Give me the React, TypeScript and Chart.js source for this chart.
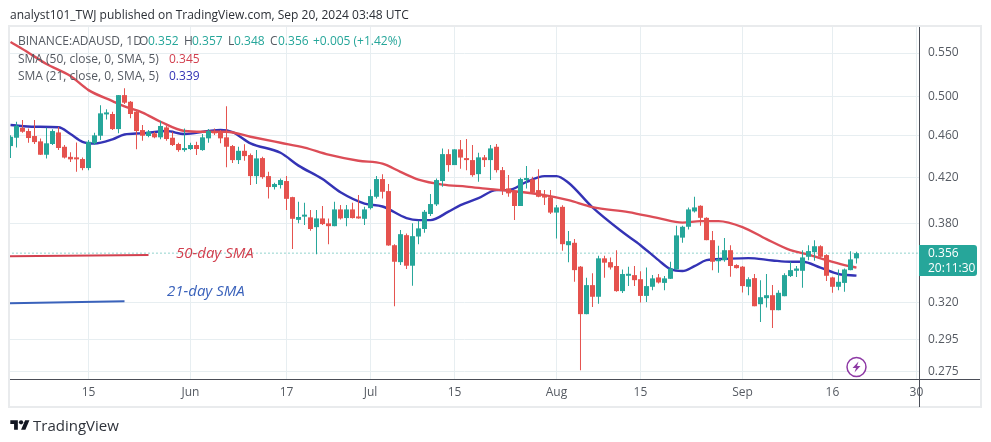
import React, { useEffect, useRef } from "react";
import { Chart, registerables } from "chart.js";

Chart.register(...registerables);

const opens = [.4493,.4575,.4675,.4642,.4592,.4539,.4409,.4513,.4628,.4486,.4389,.4377,.4368,.4283,.4520,.4595,.4813,.4817,.4662,.5019,.4947,.4841,.4652,.4592,.4619,.4579,.4679,.4575,.4513,.4454,.4464,.4503,.4454,.4569,.4642,.4635,.4579,.4493,.4358,.4447,.4406,.4209,.4377,.4209,.4110,.4128,.4164,.4021,.3827,.3854,.3848,.3767,.3839,.3798,.3775,.3915,.3842,.3915,.3848,.3836,.3926,.4024,.4182,.4074,.3622,.3491,.3702,.3464,.3691,.3752,.3876,.3958,.4164,.4415,.4311,.4461,.4374,.4358,.4227,.4384,.4358,.4486,.4264,.4098,.4077,.3944,.4173,.4179,.4083,.4039,.4020,.3888,.3937,.3622,.3641,.3457,.3118,.3321,.3238,.3520,.3491,.3462,.3278,.3389,.3394,.3364,.3244,.3309,.3377,.3337,.3367,.3436,.3682,.3770,.3898,.3946,.3844,.3662,.3498,.3506,.3583,.3469,.3457,.3309,.3372,.3186,.3228,.3249,.3145,.3242,.3387,.3426,.3426,.3532,.3568,.3614,.3545,.3377,.3309,.3337,.3431,.352];
const highs = [.4600,.4737,.4754,.4669,.4754,.4568,.4675,.4659,.4686,.4503,.4432,.4529,.4382,.4552,.4625,.4911,.4866,.4841,.5019,.5094,.4954,.4866,.4703,.4652,.4635,.4747,.4693,.4635,.4525,.4669,.4525,.4535,.4612,.4662,.4669,.4652,.4900,.4503,.4486,.4510,.4422,.4454,.4389,.4248,.4149,.4188,.4209,.4024,.3981,.3972,.3909,.3909,.3944,.3839,.3981,.3952,.3952,.3972,.4039,.3937,.4089,.4209,.4227,.4137,.3630,.3743,.3716,.3798,.3819,.3909,.4048,.4188,.4470,.4461,.4461,.4552,.4562,.4503,.4428,.4406,.4503,.4513,.4292,.4218,.4077,.4194,.4302,.4203,.4273,.4083,.4083,.3952,.3950,.3735,.3672,.3462,.3374,.3407,.3540,.3540,.3527,.3583,.3436,.3457,.3462,.3423,.3451,.3394,.3402,.3387,.3494,.3778,.3778,.3932,.4024,.3950,.3848,.3735,.3617,.3680,.3622,.3476,.3462,.3379,.3402,.3357,.3402,.3321,.3285,.3407,.3494,.3462,.3583,.3622,.3662,.3622,.3552,.3382,.3436,.3443,.3575,.357];
const lows = [.4377,.4480,.4625,.4525,.4513,.4406,.4374,.4503,.4454,.4374,.4339,.4248,.4264,.4264,.4503,.4552,.4761,.4652,.4619,.4922,.4772,.4461,.4545,.4579,.4569,.4559,.4545,.4493,.4437,.4437,.4454,.4406,.4447,.4525,.4602,.4520,.4290,.4330,.4320,.4352,.4128,.4137,.4185,.4010,.4089,.4098,.3909,.3593,.3798,.3784,.3737,.3552,.3784,.3630,.3775,.3831,.3775,.3839,.3836,.3784,.3915,.4010,.4010,.3617,.3172,.3469,.3439,.3316,.3630,.3721,.3859,.3944,.4113,.4248,.4311,.4276,.4264,.4203,.4157,.4292,.4173,.4242,.4039,.4024,.3825,.3944,.4098,.4054,.4020,.3952,.3876,.3675,.3578,.3490,.3345,.2760,.3118,.3167,.3190,.3374,.3436,.3273,.3265,.3314,.3314,.3198,.3202,.3285,.3333,.3285,.3365,.3436,.3642,.3748,.3888,.3778,.3662,.3431,.3411,.3494,.3382,.3443,.3268,.3249,.3172,.3065,.3163,.3025,.3145,.3242,.3380,.3380,.3302,.3506,.3501,.3527,.3350,.3266,.3285,.3273,.3431,.348];
const closes = [.4585,.4696,.4635,.4572,.4532,.4409,.4520,.4642,.4474,.4382,.4365,.4365,.4283,.4535,.4599,.4824,.4824,.4662,.5019,.4937,.4817,.4642,.4595,.4635,.4579,.4693,.4562,.4503,.4454,.4461,.4503,.4464,.4579,.4642,.4619,.4569,.4486,.4358,.4447,.4396,.4209,.4374,.4200,.4110,.4137,.4173,.4006,.3836,.3851,.3860,.3752,.3839,.3792,.3775,.3915,.3839,.3915,.3842,.3839,.3915,.4030,.4182,.4068,.3620,.3494,.3710,.3464,.3694,.3757,.3895,.3961,.4173,.4415,.4311,.4461,.4382,.4358,.4218,.4384,.4358,.4470,.4264,.4083,.4054,.3944,.4182,.4179,.4060,.4024,.4017,.3888,.3932,.3630,.3654,.3431,.3118,.3321,.3238,.3520,.3487,.3451,.3278,.3402,.3402,.3357,.3244,.3314,.3370,.3340,.3370,.3443,.3700,.3770,.3915,.3932,.3844,.3662,.3494,.3506,.3583,.3462,.3446,.3314,.3364,.3172,.3235,.3249,.3145,.3266,.3394,.3431,.3443,.3527,.3576,.3614,.3532,.3389,.3309,.3345,.3436,.3512,.356];

const sma50Days = [0,3,6,10,13,17,19,22,25,29,32,36,40,45,49,53,58,62,65,68,72,76,80,83,89,93,97,103,108,112,115,118,122,126,130,133,136,139,141];
const sma50Values = [.5633,.5504,.5370,.5232,.5074,.4954,.4897,.4832,.4737,.4642,.4635,.4635,.4585,.4525,.4478,.4410,.4352,.4324,.4248,.4177,.4132,.4114,.4091,.4077,.4039,.3995,.3935,.3892,.3841,.3804,.3817,.3817,.3768,.3670,.3583,.3549,.3506,.3469,.345];
const sma21Days = [0,4,8,10,12,14,17,19,22,26,29,33,35,37,40,45,48,52,55,59,62,66,68,70,73,75,78,81,83,86,89,91,93,97,102,105,108,110,112,114,116,119,123,127,130,132,135,138,141];
const sma21Values = [.4703,.4686,.4680,.4612,.4535,.4518,.4559,.4607,.4619,.4642,.4612,.4642,.4652,.4632,.4520,.4428,.4306,.4182,.4063,.3965,.3940,.3842,.3825,.3825,.3896,.3952,.4012,.4083,.4083,.4156,.4209,.4209,.4149,.3932,.3727,.3622,.3506,.3438,.3424,.3461,.3506,.3516,.3522,.3504,.3494,.3494,.3450,.3402,.339];

const note50Days = [-0.1, 23];
const note50Values = [.3537, .3545];
const note21Days = [-0.1, 19];
const note21Values = [.3193, .3207];

const lastPrice = 0.356;
const priceTicks = [.55, .5, .46, .42, .38, .32, .295, .275];
const dayTicks = [13, 30, 46, 60, 74, 91, 105, 122, 137, 151];
const dayTickLabels = ["15", "Jun", "17", "Jul", "15", "Aug", "15", "Sep", "16", "30"];

const UP = "#26a69a";
const DOWN = "#e5524e";
const RED_LINE = "#dc4d57";
const BLUE_LINE = "#3433b5";
const GRID = "#e7eef1";
const AXIS = "#4a4d57";
const TEXT = "#555a62";
const FONT = '"Open Sans", sans-serif';

const pts = (xs: number[], ys: number[]) => xs.map((x, i) => ({ x, y: ys[i] }));

const framePlugin = {
  id: "frame",
  afterDraw(chart: any) {
    const { ctx, chartArea } = chart;
    const r = chartArea.right;
    const b = chartArea.bottom;
    const t = chartArea.top;
    const l = chartArea.left;
    ctx.save();
    ctx.strokeStyle = "#e9ebed";
    ctx.lineWidth = 2;
    ctx.strokeRect(l - 1, t - 1, 981 - l + 1, 407 - t + 1);
    ctx.strokeStyle = AXIS;
    ctx.lineWidth = 1;
    ctx.beginPath();
    ctx.moveTo(l, b + 0.5);
    ctx.lineTo(980, b + 0.5);
    ctx.moveTo(r + 0.5, t);
    ctx.lineTo(r + 0.5, 407);
    ctx.stroke();
    ctx.restore();
  },
};

const Label = ({ x, y, color = TEXT, size = 12, style, children }: any) => (
  <span
    style={{
      position: "absolute",
      left: x,
      top: y,
      color,
      fontSize: size,
      lineHeight: "16px",
      fontFamily: FONT,
      whiteSpace: "nowrap",
      ...style,
    }}
  >
    {children}
  </span>
);

export default function App() {
  const ref = useRef<HTMLCanvasElement>(null);
  useEffect(() => {
    const chart = new Chart(ref.current as HTMLCanvasElement, {
      type: "bar",
      plugins: [framePlugin],
      data: {
        datasets: [
          {
            type: "line",
            data: [{ x: -1, y: lastPrice }, { x: 152, y: lastPrice }],
            borderColor: UP,
            borderWidth: 1,
            borderDash: [1, 3],
            pointRadius: 0,
            order: 5,
          },
          {
            type: "line",
            data: pts(note50Days, note50Values),
            borderColor: "#d2404f",
            borderWidth: 2,
            pointRadius: 0,
            order: 4,
          },
          {
            type: "line",
            data: pts(note21Days, note21Values),
            borderColor: "#3a62bb",
            borderWidth: 2,
            pointRadius: 0,
            order: 4,
          },
          {
            type: "line",
            data: pts(sma50Days, sma50Values),
            borderColor: RED_LINE,
            borderWidth: 2.4,
            pointRadius: 0,
            cubicInterpolationMode: "monotone",
            order: 3,
          },
          {
            type: "line",
            data: pts(sma21Days, sma21Values),
            borderColor: BLUE_LINE,
            borderWidth: 2.4,
            pointRadius: 0,
            cubicInterpolationMode: "monotone",
            order: 3,
          },
          {
            data: lows.map((l, i) => ({ x: i, y: [l, highs[i]] })),
            backgroundColor: closes.map((c, i) => (c >= opens[i] ? UP : DOWN)),
            barThickness: 1,
            grouped: false,
            inflateAmount: 0,
            order: 2,
          },
          {
            data: opens.map((o, i) => ({ x: i, y: [o, closes[i]] })),
            backgroundColor: closes.map((c, i) => (c >= opens[i] ? UP : DOWN)),
            barThickness: 5,
            grouped: false,
            minBarLength: 2,
            inflateAmount: 0,
            order: 1,
          },
        ] as any,
      },
      options: {
        responsive: false,
        animation: false,
        layout: { padding: { left: 10, top: 27, right: 0, bottom: 0 } },
        plugins: { legend: { display: false }, tooltip: { enabled: false }, title: { display: false } },
        scales: {
          x: {
            type: "linear",
            offset: false,
            min: -0.083,
            max: 151.42,
            grid: { color: GRID, offset: false, drawTicks: false },
            border: { display: false },
            afterBuildTicks(scale: any) {
              scale.ticks = dayTicks.map((value) => ({ value }));
            },
            afterFit(scale: any) {
              scale.height = 63;
            },
            ticks: {
              autoSkip: false,
              maxRotation: 0,
              padding: 6,
              color: TEXT,
              font: { family: FONT, size: 12 },
              callback: (v: any) => dayTickLabels[dayTicks.indexOf(Number(v))] ?? "",
            },
          },
          y: {
            type: "logarithmic",
            position: "right",
            min: 0.2708,
            max: 0.582,
            grid: { color: GRID, drawTicks: false },
            border: { display: false },
            afterBuildTicks(scale: any) {
              scale.ticks = priceTicks.map((value) => ({ value }));
            },
            afterFit(scale: any) {
              scale.width = 72;
            },
            ticks: {
              padding: 9,
              color: TEXT,
              font: { family: FONT, size: 12 },
              callback: (v: any) => Number(v).toFixed(3),
            },
          },
        },
      } as any,
    });
    return () => chart.destroy();
  }, []);

  return (
    <div style={{ position: "absolute", left: 0, top: 0, width: 991, height: 442, overflow: "hidden", background: "#fff" }}>
      <canvas ref={ref} width={991} height={442} style={{ display: "block" }} />
      <Label x={10} y={7} color="#2b2f36">analyst101_TWJ published on TradingView.com, Sep 20, 2024 03:48 UTC</Label>

      <Label x={18} y={33}>BINANCE:ADAUSD, 1D</Label>
      <Label x={139} y={33}>O</Label>
      <Label x={148} y={33} color={UP}>0.352</Label>
      <Label x={184} y={33}>H</Label>
      <Label x={192} y={33} color={UP}>0.357</Label>
      <Label x={228} y={33}>L</Label>
      <Label x={234} y={33} color={UP}>0.348</Label>
      <Label x={270} y={33}>C</Label>
      <Label x={278} y={33} color={UP}>0.356</Label>
      <Label x={313} y={33} color={UP}>+0.005 (+1.42%)</Label>

      <Label x={18} y={51}>SMA (50, close, 0, SMA, 5)</Label>
      <Label x={169} y={51} color="#d2404f">0.345</Label>
      <Label x={18} y={68}>SMA (21, close, 0, SMA, 5)</Label>
      <Label x={169} y={68} color={BLUE_LINE}>0.339</Label>

      <Label x={176} y={244} size={15} color="#d2404f" style={{ fontStyle: "italic" }}>50-day SMA</Label>
      <Label x={167} y={282} size={15} color="#3a62bb" style={{ fontStyle: "italic" }}>21-day SMA</Label>

      <div style={{ position: "absolute", left: 919, top: 245, width: 58, height: 31, background: UP, borderRadius: "0 3px 3px 0" }} />
      <Label x={928} y={245} color="#fff">0.356</Label>
      <Label x={928} y={260} color="#fff">20:11:30</Label>

      <svg style={{ position: "absolute", left: 846, top: 356 }} width={21} height={22} viewBox="0 0 21 22">
        <circle cx={10.5} cy={11} r={9.5} fill="#fff" stroke="#8e3aa5" strokeWidth={1.5} />
        <path d="M12.5 5.5 L6.5 12 L10 12 L8.5 16.5 L14.5 10 L11 10 Z" fill="#8e3aa5" />
      </svg>

      <svg style={{ position: "absolute", left: 10, top: 418 }} width={20} height={14} viewBox="0 0 36 26">
        <path d="M14 22H7V11H0V4h14v18zM28 22h-8l7.5-18h8L28 22z" fill="#131722" />
        <circle cx={20} cy={8} r={4} fill="#131722" />
      </svg>
      <Label x={33} y={416} size={15} color="#2f333b" style={{ lineHeight: "18px" }}>TradingView</Label>
    </div>
  );
}
